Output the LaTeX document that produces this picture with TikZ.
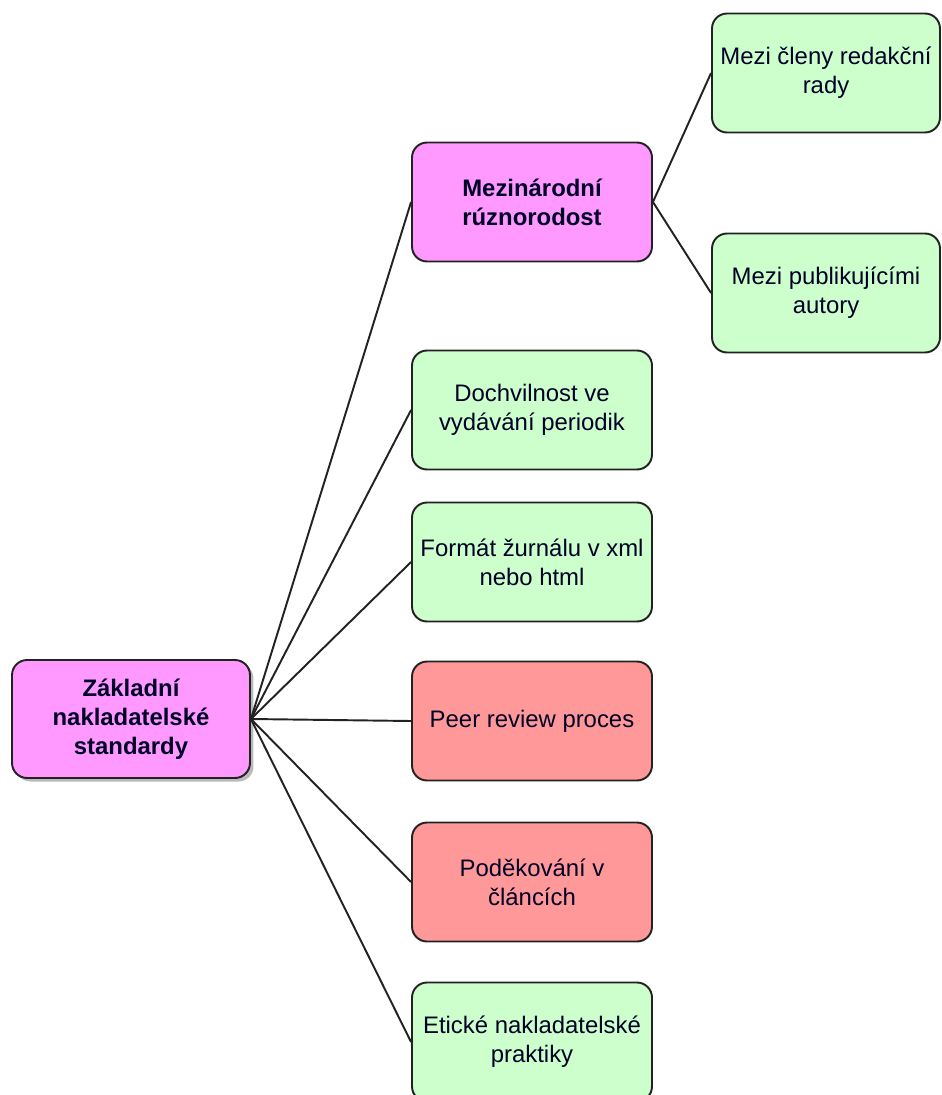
\documentclass[tikz,border=0pt]{standalone}
\usepackage{fontspec}
\setmainfont{Liberation Sans}
\usetikzlibrary{shadows}
\definecolor{pinkfill}{HTML}{FF99FF}
\definecolor{greenfill}{HTML}{CCFFCC}
\definecolor{redfill}{HTML}{FF9999}
\definecolor{edgecol}{HTML}{222222}
\begin{document}
\begin{tikzpicture}[x=0.02cm,y=-0.02cm,
  box/.style={draw=edgecol, line width=1.1pt, rounded corners=0.3cm, align=center,
    minimum width=4.8cm, minimum height=2.38cm, inner sep=0pt,
    font=\fontsize{13.6}{16.6}\selectfont, text=black!85!blue},
  pinkbox/.style={box, fill=pinkfill, font=\fontsize{13.6}{16.6}\selectfont\bfseries},
  greenbox/.style={box, fill=greenfill},
  redbox/.style={box, fill=redfill},
  conn/.style={draw=edgecol, line width=1.1pt}]
\useasboundingbox (0,0) rectangle (942,1095);
\clip (0,0) rectangle (942,1095);
\node[pinkbox, minimum width=4.76cm, minimum height=2.36cm,
  drop shadow={shadow xshift=2pt, shadow yshift=-2pt, fill=black!45, opacity=0.6}]
  (root) at (131,719) {Základní\\nakladatelské\\standardy};
\node[pinkbox] (mez) at (532,202) {Mezinárodní\\rúznorodost};
\node[greenbox] (doch) at (532,410) {Dochvilnost ve\\vydávání periodik};
\node[greenbox] (form) at (532,562) {Formát žurnálu v xml\\nebo html};
\node[redbox] (peer) at (532,721) {Peer review proces};
\node[redbox] (pod) at (532,882) {Poděkování v\\článcích};
\node[greenbox] (etic) at (532,1042) {Etické nakladatelské\\praktiky};
\node[greenbox, minimum width=4.56cm] (clen) at (826,73) {Mezi členy redakční\\rady};
\node[greenbox, minimum width=4.56cm] (aut) at (826,293) {Mezi publikujícími\\autory};
\foreach \t in {mez,doch,form,peer,pod,etic}
  \draw[conn] (root.east) -- (\t.west);
\draw[conn] (mez.east) -- (clen.west);
\draw[conn] (mez.east) -- (aut.west);
\end{tikzpicture}
\end{document}
